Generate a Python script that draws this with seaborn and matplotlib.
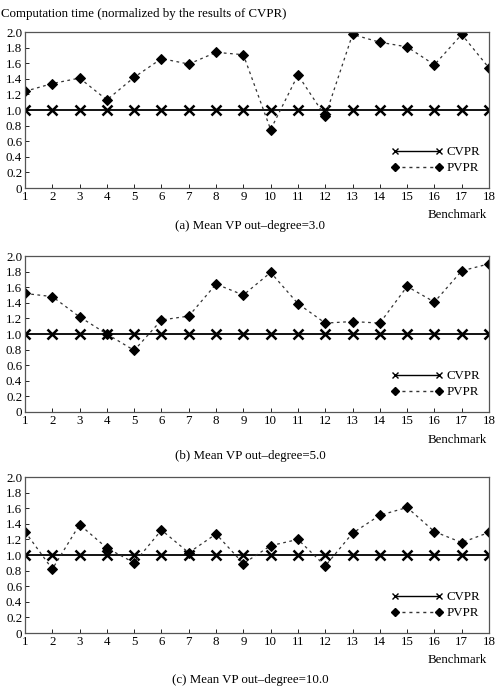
import matplotlib
matplotlib.use("Agg")
import matplotlib.pyplot as plt
import seaborn as sns
import pandas as pd
import numpy as np

benchmarks = list(range(1, 19))
cvpr = [1.0] * 18
pvpr_a = [1.24, 1.34, 1.41, 1.13, 1.42, 1.66, 1.59, 1.74, 1.71, 0.75, 1.45, 0.92, 1.97, 1.87, 1.81, 1.58, 1.97, 1.54]
pvpr_b = [1.52, 1.48, 1.22, 1.00, 0.79, 1.18, 1.23, 1.64, 1.50, 1.79, 1.39, 1.14, 1.16, 1.14, 1.61, 1.41, 1.81, 1.90]
pvpr_c = [1.30, 0.82, 1.39, 1.09, 0.90, 1.32, 1.03, 1.27, 0.89, 1.12, 1.20, 0.86, 1.28, 1.51, 1.61, 1.30, 1.16, 1.29]
titles = ["(a) Mean VP out\u2013degree=3.0", "(b) Mean VP out\u2013degree=5.0", "(c) Mean VP out\u2013degree=10.0"]
ylabel = "Computation time (normalized by the results of CVPR)"
yticks = [0, 0.2, 0.4, 0.6, 0.8, 1.0, 1.2, 1.4, 1.6, 1.8, 2.0]
ytick_labels = ["0", "0.2", "0.4", "0.6", "0.8", "1.0", "1.2", "1.4", "1.6", "1.8", "2.0"]

sns.set_style("ticks")
plt.rcParams["font.family"] = ["Liberation Serif", "DejaVu Serif"]
plt.rcParams["font.size"] = 9
plt.rcParams["text.color"] = "black"

FS = 9.3
fig = plt.figure(figsize=(5.0, 6.87), dpi=100)
L, W, H = 0.05, 0.928, 0.227
bottoms = [0.7263, 0.4003, 0.0786]
series = [pvpr_a, pvpr_b, pvpr_c]
bench_y = [215, 440, 660]
title_y = [226, 456, 680]

for i in range(3):
    ax = fig.add_axes([L, bottoms[i], W, H])
    df = pd.DataFrame({"Benchmark": benchmarks, "CVPR": cvpr, "PVPR": series[i]})
    sns.lineplot(data=df, x="Benchmark", y="CVPR", ax=ax, color="black", lw=1.3,
                 marker="x", markersize=6.5, markeredgewidth=1.8,
                 markeredgecolor="black", markerfacecolor="black", label="CVPR")
    sns.lineplot(data=df, x="Benchmark", y="PVPR", ax=ax, color="#333333", lw=0.9,
                 linestyle=(0, (2.2, 2.8)), marker="D", markersize=5,
                 markerfacecolor="black", markeredgecolor="black", label="PVPR")
    ax.set_xlim(1, 18)
    ax.set_ylim(0, 2.0)
    ax.set_xticks(benchmarks)
    ax.set_xticklabels([str(b) for b in benchmarks], fontsize=FS)
    ax.set_yticks(yticks)
    ax.set_yticklabels(ytick_labels, fontsize=FS)
    ax.tick_params(direction="in", length=3, width=0.6, pad=2, colors="black")
    ax.set_xlabel("")
    ax.set_ylabel("")
    for s in ax.spines.values():
        s.set_linewidth(0.9)
        s.set_color("#555555")
    leg = ax.legend(loc="lower right", bbox_to_anchor=(1.0, 0.03), frameon=False,
                    numpoints=2, handlelength=4.0, fontsize=FS, labelspacing=0.3,
                    handletextpad=0.3, borderaxespad=0.3)
    for h in leg.legend_handles:
        h.set_markeredgecolor("black")
        h.set_markersize(4)
        h.set_markeredgewidth(1.0)
        h.set_linewidth(1.0)
    fig.text(487 / 500, 1 - bench_y[i] / 687, "Benchmark", ha="right", va="center", fontsize=FS)
    fig.text(0.5, 1 - title_y[i] / 687, titles[i], ha="center", va="center", fontsize=FS)

fig.text(0.002, 1 - 14 / 687, ylabel, ha="left", va="center", fontsize=FS)
fig.savefig("out.png", dpi=100)
